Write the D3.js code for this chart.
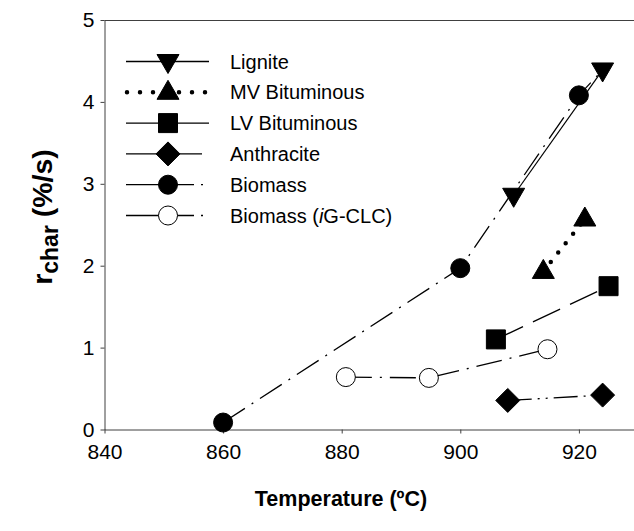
<!DOCTYPE html>
<html><head><meta charset="utf-8">
<script src="https://cdn.jsdelivr.net/npm/d3@7"></script>
<style>body{margin:0;background:#fff}svg{display:block}text{font-family:"Liberation Sans",Arial,sans-serif;fill:#000}</style>
</head><body><svg id="c" width="634" height="531"></svg>
<script>
const xTicks = [840, 860, 880, 900, 920];
const yTicks = [0, 1, 2, 3, 4, 5];
const seriesNames = ["Lignite", "MV Bituminous", "LV Bituminous", "Anthracite", "Biomass", "Biomass (iG-CLC)"];
const ligniteT = [909, 924], ligniteR = [2.86, 4.39];
const mvT = [914, 921], mvR = [1.93, 2.57];
const lvT = [906, 925], lvR = [1.10, 1.75];
const anthT = [908, 924], anthR = [0.355, 0.42];
const bioT = [860, 900, 920, 924], bioR = [0.085, 1.97, 4.08, 4.39];
const igT = [880.7, 894.7, 914.7], igR = [0.64, 0.63, 0.98];

const svg = d3.select("#c");
const L = 104.5, T = 20, B = 429.5;
const x = d3.scaleLinear().domain([840, 930]).range([L, L + 90 * 5.93]);
const y = d3.scaleLinear().domain([0, 5]).range([B, T]);

const axisColor = "#404040";
svg.append("line").attr("x1", L).attr("x2", 634).attr("y1", T + 0.5).attr("y2", T + 0.5).attr("stroke", axisColor);

const gx = svg.append("g").attr("transform", `translate(0,${B})`)
  .call(d3.axisBottom(x).tickValues(xTicks).tickFormat(d3.format("d")).tickSize(4).tickPadding(11).tickSizeOuter(0));
const gy = svg.append("g").attr("transform", `translate(${L},0)`)
  .call(d3.axisLeft(y).tickValues(yTicks).tickFormat(d3.format("d")).tickSize(4).tickPadding(6).tickSizeOuter(0));
[gx, gy].forEach(g => {
  g.selectAll("path,line").attr("stroke", axisColor);
  g.selectAll("text").attr("font-size", 21).attr("font-family", "Liberation Sans, Arial, sans-serif").attr("fill", "#000");
});
gx.select("path").attr("d", `M${L},0.5H634`);

svg.append("text").attr("x", 341).attr("y", 506).attr("text-anchor", "middle")
  .attr("font-size", 21.5).attr("font-weight", "bold").text("Temperature (ºC)");
const yt = svg.append("text").attr("transform", "translate(52,217) rotate(-90)")
  .attr("text-anchor", "middle").attr("font-size", 28.5).attr("font-weight", "bold");
yt.append("tspan").text("r");
yt.append("tspan").attr("font-size", 23).attr("dy", 6).text("char");
yt.append("tspan").attr("dy", -6).text(" (%/s)");

const styles = [
  {t: ligniteT, r: ligniteR, sym: "tdown", fill: "#000", dash: null, w: 1.2},
  {t: mvT, r: mvR, sym: "tup", fill: "#000", dash: "0,12", w: 4.5, cap: "round"},
  {t: lvT, r: lvR, sym: "square", fill: "#000", dash: "30,11", w: 1.3},
  {t: anthT, r: anthR, sym: "diamond", fill: "#000", dash: "24,6,2,6,2,6", w: 1.3},
  {t: bioT, r: bioR, sym: "circle", fill: "#000", dash: "26,8,2,8", w: 1.3},
  {t: igT, r: igR, sym: "circle", fill: "#fff", dash: "26,8,2,8", w: 1.3}
];

function symPath(kind) {
  if (kind === "tdown") return "M-11,-7L11,-7L0,12Z";
  if (kind === "tup") return "M-11,7L11,7L0,-12Z";
  if (kind === "square") return "M-9.5,-9.5H9.5V9.5H-9.5Z";
  if (kind === "diamond") return "M0,-12L12,0L0,12L-12,0Z";
  return d3.symbol().type(d3.symbolCircle).size(Math.PI * 9.5 * 9.5)();
}

const line = d3.line();
const order = [4, 5, 0, 1, 2, 3];
order.forEach(i => {
  const s = styles[i];
  const pts = s.t.map((t, k) => [x(t), y(s.r[k])]);
  svg.append("path").attr("d", line(pts)).attr("fill", "none").attr("stroke", "#000")
    .attr("stroke-width", s.w).attr("stroke-dasharray", s.dash).attr("stroke-linecap", s.cap || "butt");
});
order.forEach(i => {
  const s = styles[i];
  const n = (i === 4) ? 3 : s.t.length;
  for (let k = 0; k < n; k++) {
    svg.append("path").attr("d", symPath(s.sym)).attr("transform", `translate(${x(s.t[k])},${y(s.r[k])})`)
      .attr("fill", s.fill).attr("stroke", "#000").attr("stroke-width", 1);
  }
});

const lg = svg.append("g");
styles.forEach((s, i) => {
  const cy = 61.5 + i * 30.8;
  const g = lg.append("g").attr("transform", `translate(0,${cy})`);
  if (i === 1) {
    g.append("line").attr("x1", 127).attr("x2", 206).attr("stroke", "#000").attr("stroke-width", 4.5)
      .attr("stroke-dasharray", "0,13").attr("stroke-linecap", "round");
  } else if (i >= 4) {
    g.append("line").attr("x1", 126).attr("x2", 194).attr("stroke", "#000").attr("stroke-width", 1.3);
    g.append("line").attr("x1", 201).attr("x2", 203).attr("stroke", "#000").attr("stroke-width", 1.3);
  } else {
    g.append("line").attr("x1", 126).attr("x2", i === 3 ? 202 : 209).attr("stroke", "#000").attr("stroke-width", 1.3);
  }
  g.append("path").attr("d", symPath(s.sym)).attr("transform", "translate(168,0)")
    .attr("fill", s.fill).attr("stroke", "#000");
  const tx = g.append("text").attr("x", 230).attr("y", 7).attr("font-size", 20);
  if (i === 5) {
    tx.append("tspan").text("Biomass (");
    tx.append("tspan").attr("font-style", "italic").text("i");
    tx.append("tspan").text("G-CLC)");
  } else tx.text(seriesNames[i]);
});
</script></body></html>
